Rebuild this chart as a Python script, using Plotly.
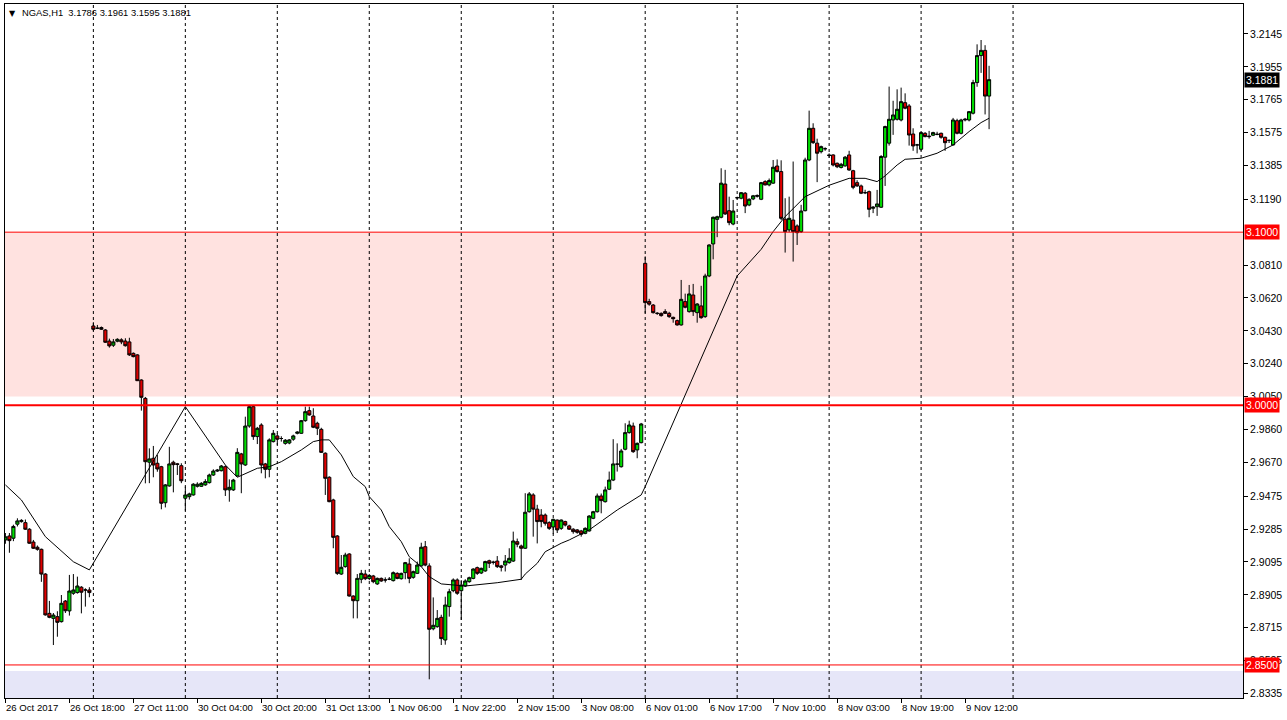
import plotly.graph_objects as go

# ---------------- data (NGAS, H1) ----------------
opens = [
    2.9222, 2.9245, 2.9232, 2.9313, 2.9328, 2.9322, 2.9284, 2.9210, 2.9180, 2.9168,
    2.9025, 2.8798, 2.8769, 2.8779, 2.8750, 2.8869, 2.8812, 2.8914, 2.8918, 2.8949,
    2.8933, 2.8933, 3.0458, 3.0445, 3.0449, 3.0435, 3.0371, 3.0347, 3.0370, 3.0378,
    3.0371, 3.0366, 3.0300, 3.0291, 3.0146, 3.0040, 2.9671, 2.9694, 2.9665, 2.9645,
    2.9437, 2.9534, 2.9671, 2.9662, 2.9651, 2.9463, 2.9472, 2.9482, 2.9532, 2.9532,
    2.9540, 2.9553, 2.9597, 2.9620, 2.9622, 2.9645, 2.9511, 2.9511, 2.9592, 2.9719,
    2.9655, 2.9880, 2.9992, 2.9819, 2.9886, 2.9661, 2.9630, 2.9790, 2.9823, 2.9808,
    2.9780, 2.9782, 2.9804, 2.9838, 2.9838, 2.9911, 2.9969, 2.9938, 2.9896, 2.9861,
    2.9723, 2.9584, 2.9453, 2.9245, 2.9025, 2.9068, 2.9141, 2.8898, 2.8871, 2.8995,
    2.9025, 2.8999, 2.9014, 2.8968, 2.9000, 2.8991, 2.8995, 2.8987, 2.9029, 2.8998,
    2.9033, 2.9083, 2.9006, 2.9029, 2.9072, 2.9183, 2.9072, 2.8709, 2.8721, 2.8775,
    2.8644, 2.8837, 2.8929, 2.8991, 2.8929, 2.8956, 2.8981, 2.9000, 2.9062, 2.9031,
    2.9043, 2.9102, 2.9093, 2.9100, 2.9072, 2.9077, 2.9091, 2.9100, 2.9212, 2.9187,
    2.9174, 2.9385, 2.9482, 2.9400, 2.9366, 2.9366, 2.9322, 2.9297, 2.9337, 2.9289,
    2.9328, 2.9303, 2.9284, 2.9280, 2.9274, 2.9260, 2.9274, 2.9347, 2.9385, 2.9476,
    2.9443, 2.9515, 2.9568, 2.9660, 2.9645, 2.9746, 2.9842, 2.9880, 2.9742, 2.9784,
    3.0820, 3.0599, 3.0579, 3.0531, 3.0531, 3.0541, 3.0531, 3.0508, 3.0489, 3.0464,
    3.0599, 3.0541, 3.0637, 3.0535, 3.0574, 3.0512, 3.0747, 3.0932, 3.1074, 3.1086,
    3.1278, 3.1124, 3.1047, 3.1199, 3.1196, 3.1225, 3.1157, 3.1192, 3.1212, 3.1190,
    3.1292, 3.1273, 3.1283, 3.1382, 3.1350, 3.1075, 3.1013, 3.1070, 3.1036, 3.1003,
    3.1124, 3.1417, 3.1600, 3.1514, 3.1465, 3.1482, 3.1446, 3.1446, 3.1398, 3.1374,
    3.1383, 3.1446, 3.1355, 3.1286, 3.1267, 3.1228, 3.1234, 3.1138, 3.1147, 3.1144,
    3.1433, 3.1514, 3.1648, 3.1652, 3.1648, 3.1748, 3.1729, 3.1567, 3.1504, 3.1479,
    3.1571, 3.1555, 3.1560, 3.1565, 3.1571, 3.1548, 3.1530, 3.1504, 3.1644, 3.1571,
    3.1648, 3.1648, 3.1687, 3.1864, 3.2020, 3.2050, 3.1786,
]
highs = [
    2.9262, 2.9262, 2.9310, 2.9347, 2.9342, 2.9340, 2.9290, 2.9222, 2.9190, 2.9172,
    2.9030, 2.8870, 2.8800, 2.8810, 2.8904, 2.8875, 2.9020, 2.9025, 2.9010, 2.8955,
    2.8943, 2.8949, 3.0480, 3.0464, 3.0455, 3.0440, 3.0385, 3.0383, 3.0387, 3.0387,
    3.0387, 3.0390, 3.0305, 3.0295, 3.0150, 3.0048, 2.9751, 2.9765, 2.9713, 2.9650,
    2.9545, 2.9760, 2.9680, 2.9667, 2.9665, 2.9530, 2.9495, 2.9550, 2.9555, 2.9556,
    2.9573, 2.9605, 2.9630, 2.9632, 2.9655, 2.9652, 2.9572, 2.9575, 2.9752, 2.9725,
    2.9934, 3.0002, 3.0002, 2.9875, 2.9896, 2.9667, 2.9809, 2.9857, 2.9838, 2.9821,
    2.9805, 2.9805, 2.9830, 2.9850, 2.9915, 2.9992, 2.9992, 2.9983, 2.9905, 2.9870,
    2.9728, 2.9590, 2.9460, 2.9250, 2.9135, 2.9148, 2.9145, 2.8902, 2.9025, 2.9049,
    2.9049, 2.9025, 2.9020, 2.9005, 2.9005, 2.9006, 2.9008, 2.9040, 2.9035, 2.9033,
    2.9095, 2.9116, 2.9045, 2.9097, 2.9206, 2.9216, 2.9087, 2.8890, 2.8817, 2.8790,
    2.8894, 2.8940, 2.9000, 2.9000, 2.8990, 2.8995, 2.9010, 2.9058, 2.9068, 2.9062,
    2.9102, 2.9108, 2.9102, 2.9129, 2.9078, 2.9135, 2.9174, 2.9270, 2.9230, 2.9195,
    2.9492, 2.9499, 2.9492, 2.9425, 2.9400, 2.9375, 2.9330, 2.9345, 2.9340, 2.9340,
    2.9333, 2.9310, 2.9290, 2.9285, 2.9280, 2.9295, 2.9365, 2.9390, 2.9490, 2.9490,
    2.9530, 2.9617, 2.9804, 2.9780, 2.9748, 2.9896, 2.9911, 2.9900, 2.9785, 2.9898,
    3.0860, 3.0615, 3.0585, 3.0538, 3.0536, 3.0555, 3.0540, 3.0512, 3.0495, 3.0724,
    3.0645, 3.0695, 3.0701, 3.0590, 3.0690, 3.0760, 3.0930, 3.1090, 3.1095, 3.1369,
    3.1360, 3.1205, 3.1186, 3.1205, 3.1232, 3.1232, 3.1195, 3.1215, 3.1218, 3.1290,
    3.1300, 3.1310, 3.1417, 3.1420, 3.1415, 3.1196, 3.1205, 3.1408, 3.1045, 3.1158,
    3.1430, 3.1702, 3.1629, 3.1540, 3.1500, 3.1490, 3.1455, 3.1450, 3.1402, 3.1400,
    3.1440, 3.1470, 3.1360, 3.1300, 3.1275, 3.1245, 3.1240, 3.1150, 3.1244, 3.1445,
    3.1615, 3.1841, 3.1759, 3.1825, 3.1835, 3.1802, 3.1740, 3.1600, 3.1510, 3.1580,
    3.1578, 3.1585, 3.1580, 3.1580, 3.1575, 3.1552, 3.1535, 3.1660, 3.1655, 3.1655,
    3.1660, 3.1700, 3.1880, 3.2085, 3.2110, 3.2080, 3.1961,
]
lows = [
    2.9200, 2.9148, 2.9215, 2.9300, 2.9322, 2.9280, 2.9200, 2.9170, 2.9160, 2.8980,
    2.8785, 2.8770, 2.8615, 2.8663, 2.8745, 2.8800, 2.8785, 2.8905, 2.8912, 2.8798,
    2.8837, 2.8891, 3.0430, 3.0440, 3.0435, 3.0360, 3.0333, 3.0337, 3.0364, 3.0353,
    3.0339, 3.0285, 3.0277, 3.0140, 2.9969, 2.9549, 2.9550, 2.9584, 2.9616, 2.9399,
    2.9410, 2.9530, 2.9497, 2.9597, 2.9550, 2.9391, 2.9455, 2.9478, 2.9525, 2.9528,
    2.9535, 2.9548, 2.9592, 2.9615, 2.9618, 2.9476, 2.9443, 2.9505, 2.9588, 2.9492,
    2.9650, 2.9870, 2.9800, 2.9776, 2.9607, 2.9578, 2.9584, 2.9785, 2.9771, 2.9790,
    2.9772, 2.9775, 2.9795, 2.9832, 2.9835, 2.9905, 2.9940, 2.9868, 2.9828, 2.9725,
    2.9482, 2.9440, 2.9174, 2.9020, 2.9020, 2.9062, 2.8895, 2.8769, 2.8769, 2.8972,
    2.8990, 2.8990, 2.8972, 2.8962, 2.8980, 2.8976, 2.8990, 2.8982, 2.8995, 2.8993,
    2.8995, 2.8972, 2.8998, 2.9025, 2.9068, 2.9070, 2.8417, 2.8700, 2.8715, 2.8615,
    2.8617, 2.8779, 2.8920, 2.8905, 2.8760, 2.8950, 2.8975, 2.8995, 2.9020, 2.9025,
    2.9038, 2.9060, 2.9080, 2.9060, 2.9040, 2.9040, 2.9085, 2.9095, 2.9180, 2.8991,
    2.9170, 2.9380, 2.9241, 2.9202, 2.9295, 2.9305, 2.9280, 2.9257, 2.9262, 2.9280,
    2.9300, 2.9280, 2.9258, 2.9258, 2.9241, 2.9255, 2.9270, 2.9342, 2.9380, 2.9376,
    2.9438, 2.9510, 2.9562, 2.9617, 2.9640, 2.9740, 2.9836, 2.9725, 2.9694, 2.9780,
    3.0531, 3.0575, 3.0530, 3.0522, 3.0512, 3.0528, 3.0505, 3.0477, 3.0460, 3.0460,
    3.0560, 3.0535, 3.0516, 3.0477, 3.0500, 3.0505, 3.0740, 3.0843, 3.0971, 3.1080,
    3.1100, 3.1040, 3.1040, 3.1190, 3.1190, 3.1110, 3.1150, 3.1185, 3.1200, 3.1185,
    3.1270, 3.1265, 3.1280, 3.1345, 3.1070, 3.0882, 3.1000, 3.0830, 3.0926, 3.0995,
    3.1120, 3.1410, 3.1510, 3.1289, 3.1455, 3.1470, 3.1430, 3.1380, 3.1370, 3.1368,
    3.1378, 3.1355, 3.1248, 3.1262, 3.1220, 3.1220, 3.1086, 3.1110, 3.1094, 3.1140,
    3.1267, 3.1500, 3.1562, 3.1645, 3.1640, 3.1710, 3.1500, 3.1470, 3.1455, 3.1470,
    3.1548, 3.1540, 3.1555, 3.1560, 3.1540, 3.1470, 3.1515, 3.1500, 3.1565, 3.1565,
    3.1640, 3.1640, 3.1680, 3.1840, 3.1920, 3.1680, 3.1595,
]
closes = [
    2.9240, 2.9218, 2.9300, 2.9332, 2.9335, 2.9284, 2.9203, 2.9174, 2.9168, 2.9025,
    2.8789, 2.8775, 2.8788, 2.8746, 2.8856, 2.8813, 2.8927, 2.8933, 2.8956, 2.8920,
    2.8933, 2.8918, 3.0439, 3.0445, 3.0439, 3.0364, 3.0343, 3.0366, 3.0381, 3.0366,
    3.0344, 3.0291, 3.0281, 3.0142, 3.0046, 2.9674, 2.9690, 2.9655, 2.9632, 2.9434,
    2.9540, 2.9661, 2.9657, 2.9658, 2.9564, 2.9482, 2.9488, 2.9544, 2.9544, 2.9549,
    2.9559, 2.9597, 2.9620, 2.9625, 2.9649, 2.9511, 2.9526, 2.9568, 2.9728, 2.9661,
    2.9880, 2.9992, 2.9819, 2.9867, 2.9655, 2.9630, 2.9800, 2.9838, 2.9804, 2.9808,
    2.9798, 2.9800, 2.9823, 2.9845, 2.9911, 2.9963, 2.9944, 2.9873, 2.9867, 2.9728,
    2.9578, 2.9443, 2.9237, 2.9029, 2.9064, 2.9135, 2.8898, 2.8871, 2.9000, 2.9029,
    2.8998, 2.9017, 2.8981, 2.9000, 2.8985, 2.8991, 2.8995, 2.9033, 2.9000, 2.9029,
    2.9091, 2.9000, 2.9039, 2.9077, 2.9180, 2.9077, 2.8706, 2.8729, 2.8769, 2.8652,
    2.8846, 2.8923, 2.8991, 2.8914, 2.8962, 2.8985, 2.9004, 2.9054, 2.9029, 2.9058,
    2.9097, 2.9087, 2.9093, 2.9068, 2.9064, 2.9100, 2.9116, 2.9216, 2.9197, 2.9174,
    2.9382, 2.9488, 2.9400, 2.9328, 2.9328, 2.9318, 2.9289, 2.9341, 2.9280, 2.9337,
    2.9308, 2.9284, 2.9270, 2.9266, 2.9255, 2.9289, 2.9360, 2.9385, 2.9476, 2.9449,
    2.9511, 2.9568, 2.9661, 2.9660, 2.9736, 2.9842, 2.9886, 2.9732, 2.9780, 2.9892,
    3.0593, 3.0584, 3.0535, 3.0531, 3.0518, 3.0531, 3.0512, 3.0500, 3.0464, 3.0612,
    3.0566, 3.0643, 3.0541, 3.0585, 3.0506, 3.0747, 3.0926, 3.1086, 3.1089, 3.1283,
    3.1105, 3.1055, 3.1122, 3.1199, 3.1228, 3.1151, 3.1190, 3.1210, 3.1208, 3.1286,
    3.1273, 3.1298, 3.1375, 3.1350, 3.1080, 3.1003, 3.1080, 3.1003, 3.0997, 3.1122,
    3.1417, 3.1600, 3.1517, 3.1456, 3.1494, 3.1482, 3.1443, 3.1388, 3.1378, 3.1392,
    3.1433, 3.1359, 3.1259, 3.1267, 3.1225, 3.1228, 3.1132, 3.1144, 3.1163, 3.1437,
    3.1610, 3.1652, 3.1677, 3.1710, 3.1754, 3.1716, 3.1561, 3.1498, 3.1504, 3.1575,
    3.1552, 3.1552, 3.1575, 3.1565, 3.1548, 3.1517, 3.1530, 3.1648, 3.1571, 3.1648,
    3.1652, 3.1696, 3.1864, 3.2020, 3.2050, 3.1786, 3.1881,
]

# moving average line (bar index, value)
ma_bars = [0, 4, 10, 17, 21, 45, 55, 58, 63, 66, 69, 74, 77, 79, 81, 84, 87, 90, 91, 94,
           96, 99, 101, 104, 106, 109, 115, 123, 129, 130, 133, 135, 139, 141, 146, 153,
           159, 160, 183, 189, 192, 195, 200, 206, 211, 215, 218, 220, 223, 225, 229, 233,
           237, 241, 244, 246]
ma_vals = [2.9540, 2.9453, 2.9241, 2.9096, 2.9049, 2.9992, 2.9655, 2.9584, 2.9636, 2.9645,
           2.9674, 2.9742, 2.9790, 2.9800, 2.9800, 2.9713, 2.9588, 2.9530, 2.9472, 2.9395,
           2.9299, 2.9212, 2.9125, 2.9068, 2.9010, 2.8968, 2.8956, 2.8975, 2.8995, 2.9025,
           2.9087, 2.9154, 2.9203, 2.9222, 2.9280, 2.9395, 2.9482, 2.9530, 3.0747, 3.0901,
           3.1003, 3.1090, 3.1205, 3.1271, 3.1311, 3.1311, 3.1292, 3.1325, 3.1388, 3.1421,
           3.1427, 3.1456, 3.1504, 3.1581, 3.1633, 3.1658]

time_labels = ["26 Oct 2017", "26 Oct 18:00", "27 Oct 11:00", "30 Oct 04:00", "30 Oct 20:00",
               "31 Oct 13:00", "1 Nov 06:00", "1 Nov 22:00", "2 Nov 15:00", "3 Nov 08:00",
               "6 Nov 01:00", "6 Nov 17:00", "7 Nov 10:00", "8 Nov 03:00", "8 Nov 19:00",
               "9 Nov 12:00"]
price_tick_vals = [3.2145, 3.1955, 3.1765, 3.1575, 3.1385, 3.1190, 3.0810, 3.0620,
                   3.0430, 3.0240, 3.0050, 2.9860, 2.9670, 2.9475, 2.9285, 2.9095, 2.8905,
                   2.8715, 2.8525, 2.8335]
price_tick_text = ["3.2145", "3.1955", "3.1765", "3.1575", "3.1385", "3.1190",
                   "3.0810", "3.0620", "3.0430", "3.0240", "3.0050", "2.9860", "2.9670",
                   "2.9475", "2.9285", "2.9095", "2.8905", "2.8715", "2.8525", "2.8335"]
levels = [3.1000, 3.0000, 2.8500]
zone_top = [3.1000, 3.0050]       # resistance zone
zone_bottom = [2.8465]            # support zone top
symbol_info = "NGAS,H1  3.1786 3.1961 3.1595 3.1881"
last_price = 3.1881

# ---------------- layout helpers ----------------
bars = list(range(len(opens)))
BARS_PER_LABEL = 16
BARS_PER_GRID = 23
label_bars = [i * BARS_PER_LABEL for i in range(len(time_labels))]
grid_bars = [22 + k * BARS_PER_GRID for k in range(11)]
X_RANGE = [-0.1, 309.5]
Y_RANGE = [2.8309, 3.2318]
FONT = "Liberation Sans"

fig = go.Figure()
fig.add_trace(go.Candlestick(
    x=bars, open=opens, high=highs, low=lows, close=closes,
    increasing=dict(line=dict(color="black", width=1), fillcolor="#00DD00"),
    decreasing=dict(line=dict(color="black", width=1), fillcolor="#E00000"),
    whiskerwidth=0, showlegend=False, hoverinfo="none"))
fig.add_trace(go.Scatter(x=ma_bars, y=ma_vals, mode="lines",
                         line=dict(color="black", width=1), showlegend=False,
                         hoverinfo="none"))

shapes = []
shapes.append(dict(type="rect", xref="paper", x0=0, x1=1, yref="y", y0=zone_top[1], y1=zone_top[0],
                   fillcolor="#FFE2E0", line=dict(width=0), layer="below"))
shapes.append(dict(type="rect", xref="paper", x0=0, x1=1, yref="y", y0=Y_RANGE[0], y1=zone_bottom[0],
                   fillcolor="#E6E6F8", line=dict(width=0), layer="below"))
for gb in grid_bars:
    shapes.append(dict(type="line", xref="x", x0=gb, x1=gb, yref="paper", y0=0, y1=1,
                       line=dict(color="black", width=1, dash="3px,3px"), layer="below"))
for lv, w in zip(levels, [1, 2, 1]):
    shapes.append(dict(type="line", xref="paper", x0=0, x1=1, yref="y", y0=lv, y1=lv,
                       line=dict(color="#FF0000", width=w), layer="above"))

annotations = []
for lb, txt in zip(label_bars, time_labels):
    annotations.append(dict(x=lb, xref="x", y=0, yref="paper", yanchor="top", xanchor="left",
                            yshift=-2, xshift=-1, text=txt, showarrow=False,
                            font=dict(family=FONT, size=9.6, color="black")))
for lv in levels:
    annotations.append(dict(x=1, xref="paper", y=lv, yref="y", xanchor="left", yanchor="middle",
                            xshift=1, text="%.4f" % lv, showarrow=False, bgcolor="#FF0000",
                            borderpad=1, font=dict(family=FONT, size=10.5, color="white")))
annotations.append(dict(x=1, xref="paper", y=last_price, yref="y", xanchor="left", yanchor="middle",
                        xshift=1, text="%.4f" % last_price, showarrow=False, bgcolor="black",
                        borderpad=1, font=dict(family=FONT, size=10.5, color="white")))
annotations.append(dict(x=0, xref="paper", y=1, yref="paper", xanchor="left", yanchor="top",
                        xshift=2, yshift=-3, text="▼", showarrow=False,
                        font=dict(family="DejaVu Sans", size=8, color="black")))
annotations.append(dict(x=0, xref="paper", y=1, yref="paper", xanchor="left", yanchor="top",
                        xshift=15, yshift=-1, text=symbol_info, showarrow=False,
                        font=dict(family=FONT, size=9.4, color="black")))

fig.update_layout(
    width=1287, height=720,
    margin=dict(l=5, r=44, t=4, b=22),
    paper_bgcolor="white", plot_bgcolor="white",
    showlegend=False,
    boxgap=0.22, boxgroupgap=0,
    shapes=shapes, annotations=annotations,
    xaxis=dict(range=X_RANGE, rangeslider=dict(visible=False), showgrid=False, zeroline=False,
               showline=True, linecolor="black", linewidth=1, mirror=True,
               tickvals=label_bars, ticks="outside", ticklen=4, tickcolor="black",
               showticklabels=False, fixedrange=True),
    yaxis=dict(range=Y_RANGE, side="right", showgrid=False, zeroline=False,
               showline=True, linecolor="black", linewidth=1, mirror=True,
               tickvals=price_tick_vals, ticktext=price_tick_text, ticks="outside",
               ticklen=4, tickcolor="black",
               tickfont=dict(family=FONT, size=10.5, color="black"), fixedrange=True),
)

fig.write_html("out.html", config={"displayModeBar": False},
               post_script="document.body.style.margin='0px';document.body.style.overflow='hidden';")
